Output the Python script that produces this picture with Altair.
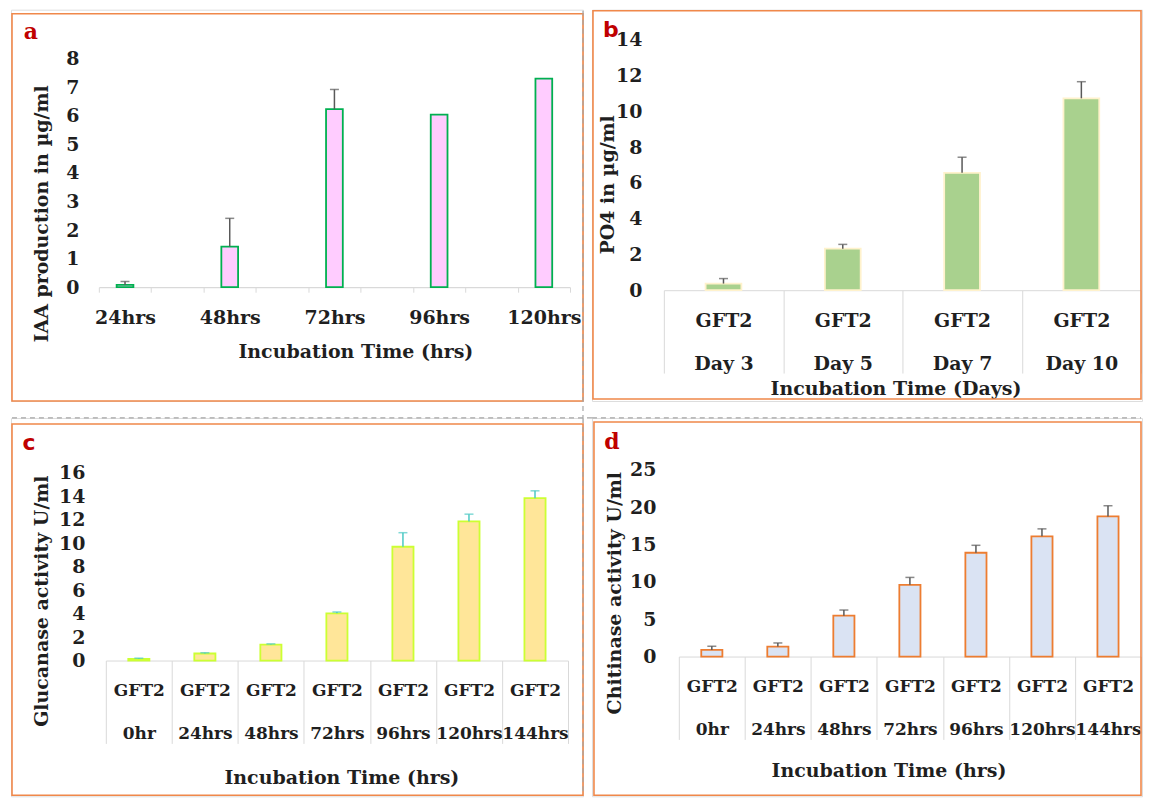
import altair as alt
import pandas as pd
import numpy as np

# ---------------- data ----------------
# Panel a: IAA production
a_cats = ["24hrs", "48hrs", "72hrs", "96hrs", "120hrs"]
a_vals = [0.08, 1.42, 6.23, 6.04, 7.30]
a_upper = [0.20, 2.41, 6.92, None, None]
a_ticks = [0, 1, 2, 3, 4, 5, 6, 7, 8]

# Panel b: PO4 solubilisation
b_cats = ["Day 3", "Day 5", "Day 7", "Day 10"]
b_vals = [0.37, 2.32, 6.56, 10.72]
b_upper = [0.65, 2.56, 7.43, 11.65]
b_ticks = [0, 2, 4, 6, 8, 10, 12, 14]

# Panel c: Glucanase activity
c_cats = ["0hr", "24hrs", "48hrs", "72hrs", "96hrs", "120hrs", "144hrs"]
c_vals = [0.14, 0.60, 1.36, 4.03, 9.70, 11.86, 13.84]
c_upper = [0.20, 0.66, 1.42, 4.14, 10.90, 12.48, 14.47]
c_ticks = [0, 2, 4, 6, 8, 10, 12, 14, 16]

# Panel d: Chitinase activity
d_cats = ["0hr", "24hrs", "48hrs", "72hrs", "96hrs", "120hrs", "144hrs"]
d_vals = [0.89, 1.33, 5.47, 9.60, 13.90, 16.10, 18.77]
d_upper = [1.38, 1.82, 6.23, 10.60, 14.90, 17.10, 20.20]
d_ticks = [0, 5, 10, 15, 20, 25]

FONT = "DejaVu Serif"
TXT = "#1f1f1f"
ORANGE = "#F0884A"
GRIDC = "#D9D9D9"
DASH = "#A6A6A6"

one = pd.DataFrame({"k": [0]})


def frame_layer(x1, x2, y1, y2):
    return alt.Chart(one).mark_rect(fill="white", fillOpacity=0, stroke=ORANGE, strokeWidth=1.6).encode(
        x=alt.value(x1), x2=alt.value(x2), y=alt.value(y1), y2=alt.value(y2))


def vdash(x, y1, y2):
    return alt.Chart(one).mark_rule(color=DASH, strokeDash=[5, 4], strokeWidth=1.2).encode(
        x=alt.value(x), y=alt.value(y1), y2=alt.value(y2))


def hdash(y, x1, x2):
    return alt.Chart(one).mark_rule(color=DASH, strokeDash=[5, 4], strokeWidth=1.2).encode(
        y=alt.value(y), x=alt.value(x1), x2=alt.value(x2))


def letter(t, x, y, font):
    return alt.Chart(one).mark_text(text=t, font=font, fontSize=22, fontWeight="bold",
                                    color="#C00000", align="center", baseline="middle").encode(
        x=alt.value(x), y=alt.value(y))


def panel(cats, vals, upper, ticks, domain, H, xr, yr, fill, stroke, errc,
          ytitle, ylp, ytx, yty, xtitle, xtx, xty, table, bandw, xlfs=19):
    df = pd.DataFrame({"cat": cats, "val": vals,
                       "up": [np.nan if u is None else u for u in upper]})
    dfe = df.dropna(subset=["up"])
    common_x = dict(title=xtitle, labelAngle=0, domainColor=GRIDC, tickColor=GRIDC, tickWidth=1,
                    tickBand="extent", labelBaseline="top", labelOverlap=False,
                    labelFont=FONT, labelFontSize=xlfs, labelFontWeight="bold", labelColor=TXT,
                    titleFont=FONT, titleFontSize=19, titleFontWeight="bold", titleColor=TXT,
                    titleX=xtx, titleY=xty, titleBaseline="middle", titleAlign="center",
                    offset=-(H - yr[0]))
    if table:
        xaxis = alt.Axis(domainWidth=1, tickSize=83,
                         labelExpr="datum.label ? ['GFT2', datum.label] : ''",
                         labelLineHeight=43, labelPadding=-62 + (19 - xlfs) // 2, **common_x)
    else:
        xaxis = alt.Axis(domainWidth=1.2, tickSize=5, labelPadding=16, **common_x)
    yaxis = alt.Axis(title=ytitle, values=ticks, domain=False, ticks=False, grid=False,
                     labelPadding=ylp, labelFont=FONT, labelFontSize=19, labelFontWeight="bold",
                     labelColor=TXT, titleFont=FONT, titleFontSize=19, titleFontWeight="bold",
                     titleColor=TXT, titleX=ytx, titleY=yty, titleBaseline="middle",
                     titleAlign="center", titleAngle=270, offset=-xr[0])
    xs = alt.Scale(domain=domain, range=list(xr), paddingInner=0, paddingOuter=0)
    ys = alt.Scale(domain=[ticks[0], ticks[-1]], range=list(yr), nice=False)
    X = alt.X("cat:N", scale=xs, axis=xaxis, sort=domain)
    bars = alt.Chart(df).mark_bar(width={"band": bandw}, fill=fill, stroke=stroke,
                                  strokeWidth=1.8).encode(
        x=X, y=alt.Y("val:Q", scale=ys, axis=yaxis))
    rules = alt.Chart(dfe).mark_rule(color=errc, strokeWidth=1.5).encode(
        x=X, y=alt.Y("val:Q", scale=ys, axis=yaxis), y2="up:Q")
    caps = alt.Chart(dfe).mark_tick(color=errc, thickness=1.5, size=9).encode(
        x=X, y=alt.Y("up:Q", scale=ys, axis=yaxis))
    return [bars, rules, caps]


# panel boxes (plot areas); the whole chart is kept inside the 1135 x 788 page area
W1, W2, H1, H2 = 573, 551, 392, 379

# ---- panel a ----
a_domain = []
for i, c in enumerate(a_cats):
    a_domain.append(c)
    if i < len(a_cats) - 1:
        a_domain.append(" " * (i + 1))
la = [frame_layer(1, W1, 4, H1)]
la += panel(a_cats, a_vals, a_upper, a_ticks, a_domain, H1, (88, 560), (278, 49),
            "#FFCCFF", "#00B050", "#595959",
            "IAA production in µg/ml", 20, -57, 204,
            "Incubation Time (hrs)", 345, 64, False, 0.32)
la += [letter("a", 20, 22, FONT), vdash(W1, 1, H1 + 17)]
chart_a = alt.layer(*la).properties(width=W1, height=H1)

# ---- panel b ----
lb = [frame_layer(1, W2 - 1, 1, H1 - 2)]
lb += panel(b_cats, b_vals, b_upper, b_ticks, b_cats, H1, (72, W2 - 1), (281, 30),
            "#A9D18E", "#FFF2CC", "#595959",
            "PO4 in  µg/ml", 22, -56, 175,
            "Incubation Time (Days)", 304, 98, True, 0.3)
lb += [letter("b", 19, 20, "DejaVu Sans")]
chart_b = alt.layer(*lb).properties(width=W2, height=H1)

# ---- panel c ----
lc = [frame_layer(1, W1, 6, H2 - 1), hdash(0, 1, W1 + 9), vdash(W1, 0, H2 - 1)]
lc += panel(c_cats, c_vals, c_upper, c_ticks, c_cats, H2, (95, 558), (243, 55),
            "#FFE699", "#CCFF33", "#4CC9C4",
            "Glucanase activity U/ml", 21, -64, 183,
            "Incubation Time (hrs)", 331, 117, True, 0.32, 17)
lc += [letter("c", 18, 25, "DejaVu Sans")]
chart_c = alt.layer(*lc).properties(width=W1, height=H2)

# ---- panel d ----
ld = [frame_layer(2, W2 - 1, 4, H2 - 1), hdash(0, 0, W2 - 1)]
ld += panel(d_cats, d_vals, d_upper, d_ticks, d_cats, H2, (87, 550), (239, 52),
            "#DAE3F3", "#ED7D31", "#595959",
            "Chitinase  activity U/ml", 23, -64, 175,
            "Incubation Time (hrs)", 297, 114, True, 0.32, 17)
ld += [letter("d", 20, 24, FONT)]
chart_d = alt.layer(*ld).properties(width=W2, height=H2)

chart = alt.concat(chart_a, chart_b, chart_c, chart_d, columns=2, bounds="flush",
                   spacing={"row": 17, "column": 9}).properties(
    padding={"left": 2, "top": 0, "right": 0, "bottom": 0}
).configure_view(strokeWidth=0).configure(background="white")

chart.save("out.html", embed_options={"renderer": "svg", "actions": False})
